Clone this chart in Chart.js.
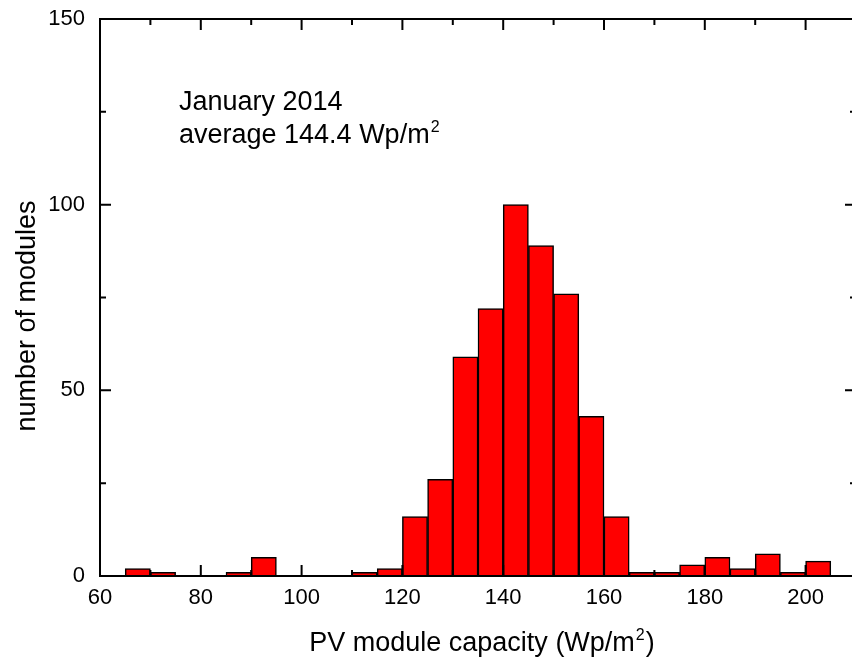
<!DOCTYPE html>
<html><head><meta charset="utf-8">
<script src="https://cdn.jsdelivr.net/npm/chart.js@4.4.1/dist/chart.umd.min.js"></script>
<style>html,body{margin:0;padding:0;background:#fff;overflow:hidden;width:852px;height:664px}canvas{display:block}</style>
</head><body>
<canvas id="c" width="856" height="664"></canvas>
<script>
// ---- data ----
const binStarts = [65,70,75,80,85,90,95,100,105,110,115,120,125,130,135,140,145,150,155,160,165,170,175,180,185,190,195,200];
const counts    = [2, 1, 0, 0, 1, 5, 0, 0, 0, 1, 2, 16,26,59,72,100,89,76,43,16,1, 1, 3, 5, 2, 6, 1, 4];
const binWidth = 5;
const xMajorTicks = [60,80,100,120,140,160,180,200];
const xMinorTicks = [70,90,110,130,150,170,190,210];
const yMajorTicks = [0,50,100,150];
const yMinorTicks = [25,75,125];
const xTitleParts = [['PV module capacity (Wp/m', false], ['2', true], [')', false]];
const yTitle = 'number of modules';
const noteLine1 = [['January 2014', false]];
const noteLine2 = [['average 144.4 Wp/m', false], ['2', true]];

const FONT = "'Liberation Sans', Arial, Helvetica, sans-serif";
Chart.defaults.font.family = FONT;
Chart.defaults.color = '#000';

const points = [];
binStarts.forEach((b, i) => { if (counts[i] > 0) points.push({x: b + binWidth / 2, y: counts[i]}); });

function drawParts(ctx, parts, x, y, size, align) {
  let total = 0;
  const widths = parts.map(([t, sup]) => {
    ctx.font = (sup ? Math.round(size * 0.6) : size) + 'px ' + FONT;
    const w = ctx.measureText(t).width + (sup ? 2 : 0); total += w; return w;
  });
  let cx = align === 'center' ? x - total / 2 : x;
  parts.forEach(([t, sup], i) => {
    ctx.font = (sup ? Math.round(size * 0.6) : size) + 'px ' + FONT;
    ctx.textAlign = 'left';
    ctx.textBaseline = 'alphabetic';
    ctx.fillText(t, cx + (sup ? 1 : 0), sup ? y - size * 0.42 : y);
    cx += widths[i];
  });
}

const framePlugin = {
  id: 'frame',
  afterDraw(chart) {
    const {ctx, chartArea: a, scales: {x, y}} = chart;
    ctx.save();
    ctx.strokeStyle = '#000';
    ctx.lineWidth = 2;
    ctx.lineCap = 'butt';
    ctx.strokeRect(a.left, a.top, a.right - a.left, a.bottom - a.top);
    const maj = 11, min = 6;
    ctx.beginPath();
    const xt = (v, len) => {
      const px = x.getPixelForValue(v);
      ctx.moveTo(px, a.bottom); ctx.lineTo(px, a.bottom - len);
      ctx.moveTo(px, a.top); ctx.lineTo(px, a.top + len);
    };
    const yt = (v, len) => {
      const py = y.getPixelForValue(v);
      ctx.moveTo(a.left, py); ctx.lineTo(a.left + len, py);
      ctx.moveTo(a.right, py); ctx.lineTo(a.right - len, py);
    };
    xMajorTicks.forEach(v => xt(v, maj));
    xMinorTicks.forEach(v => xt(v, min));
    yMajorTicks.forEach(v => yt(v, maj));
    yMinorTicks.forEach(v => yt(v, min));
    ctx.stroke();

    ctx.fillStyle = '#000';
    drawParts(ctx, xTitleParts, 482, 651, 27, 'center');
    ctx.save();
    ctx.translate(35, 316);
    ctx.rotate(-Math.PI / 2);
    ctx.font = '27px ' + FONT;
    ctx.textAlign = 'center';
    ctx.textBaseline = 'alphabetic';
    ctx.fillText(yTitle, 0, 0);
    ctx.restore();
    drawParts(ctx, noteLine1, 179, 110, 27, 'left');
    drawParts(ctx, noteLine2, 179, 143, 27, 'left');
    ctx.restore();
  }
};

new Chart(document.getElementById('c'), {
  type: 'bar',
  data: {
    datasets: [{
      data: points,
      backgroundColor: '#FF0000',
      borderColor: '#000',
      borderWidth: 1.5,
      barPercentage: 1,
      categoryPercentage: 1
    }]
  },
  options: {
    responsive: false,
    animation: false,
    events: [],
    layout: {padding: {left: 0, right: 0, top: 19, bottom: 0}},
    plugins: {legend: {display: false}, tooltip: {enabled: false}},
    scales: {
      x: {
        type: 'linear', min: 60, max: 210, offset: false,
        grid: {display: false, drawTicks: false, offset: false},
        border: {display: false},
        ticks: {font: {size: 22}, padding: 9, maxRotation: 0, autoSkip: false},
        afterBuildTicks: s => { s.ticks = xMajorTicks.map(v => ({value: v})); },
        afterFit: s => { s.height = 88; s.paddingLeft = 0; s.paddingRight = 0; }
      },
      y: {
        min: 0, max: 150,
        grid: {display: false, drawTicks: false},
        border: {display: false},
        ticks: {font: {size: 22}, padding: 15},
        afterBuildTicks: s => { s.ticks = yMajorTicks.map(v => ({value: v})); },
        afterFit: s => { s.width = 100; s.paddingTop = 0; s.paddingBottom = 0; }
      }
    }
  },
  plugins: [framePlugin]
});
</script>
</body></html>
